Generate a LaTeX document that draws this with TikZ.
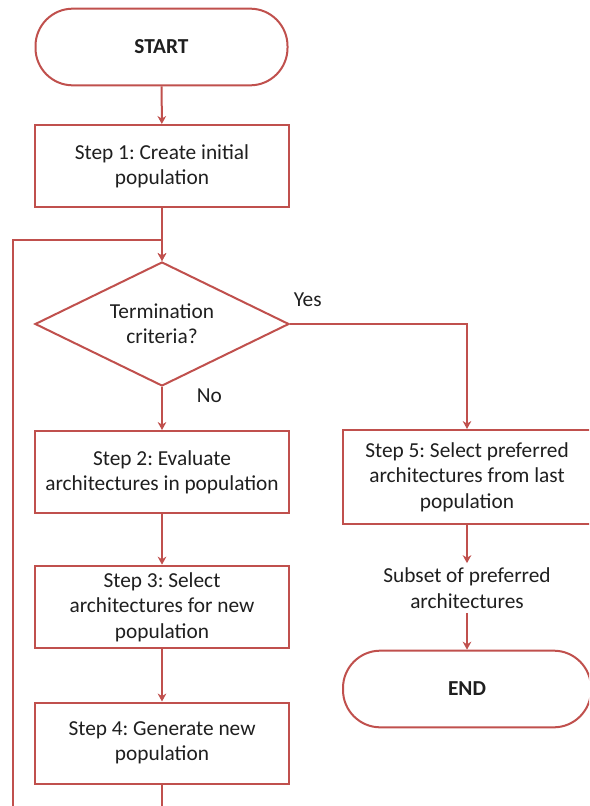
\documentclass[tikz,border=0pt]{standalone}
\usepackage{fontspec}
\setmainfont{Carlito}
\usepackage{tikz}
\usetikzlibrary{positioning}
\usetikzlibrary{shapes.geometric}
\usetikzlibrary{arrows.meta}
\definecolor{flowred}{HTML}{C0504D}
\definecolor{flowtext}{HTML}{1F1F1F}
\frenchspacing
\tikzset{base/.style={draw=flowred,line width=1.5pt,fill=white,text=flowtext,align=center,inner sep=2pt,font=\fontsize{16}{19}\selectfont}}
\tikzset{term/.style={base,rectangle,rounded corners=28pt,minimum width=189pt,minimum height=57.5pt,font=\fontsize{16}{19}\selectfont\bfseries}}
\tikzset{stepbox/.style={base,rectangle,minimum width=190.5pt,minimum height=61.5pt}}
\tikzset{decide/.style={base,diamond,aspect=2.05,inner sep=0pt,minimum width=190.5pt,minimum height=93pt}}
\tikzset{flow/.style={draw=flowred,line width=1.5pt,-{Stealth[length=6pt,width=6.5pt]}}}
\tikzset{lbl/.style={text=flowtext,font=\fontsize{16}{19}\selectfont}}

\begin{document}
\begin{tikzpicture}[x=0.75pt,y=-0.75pt]
\useasboundingbox (0,0) rectangle (589,806);
\clip (0,0) rectangle (589,806);
\node[term] (start) at (161.5,47) {START};
\node[stepbox] (step1) at (162,166) {Step 1: Create initial\\population};
\node[decide] (crit) at (162,324) {Termination\\criteria?};
\node[stepbox] (step2) at (162,472) {Step 2: Evaluate\\architectures in population};
\node[stepbox,minimum height=62pt] (step3) at (162,607) {Step 3: Select\\architectures for new\\population};
\node[stepbox,minimum height=60.75pt] (step4) at (162,743) {Step 4: Generate new\\population};
\node[stepbox,minimum width=186pt,minimum height=70.5pt] (step5) at (467,477) {Step 5: Select preferred\\architectures from last\\population};
\node[lbl,align=center] (subset) at (467,588) {Subset of preferred\\architectures};
\node[term,minimum width=186pt] (end) at (467,689) {END};
%\node[lbl] at (13,240) {};
\coordinate (loopjoin) at (162,240);
\coordinate (loopbot) at (162,840);
\coordinate (loopleft) at (13,840);
\draw[flow] (start) -- (step1);
\draw[flow] (step1) -- (crit);
\draw[flow] (step4.south) -- (loopbot) -- (loopleft) |- (loopjoin) -- (crit.north);
\draw[flow] (crit) -- node[lbl,pos=0.2,right=22pt] {No} (step2);
\draw[flow] (crit.east) -| (step5.north) node[lbl,pos=0.05,above=9pt] {Yes};
\draw[flow] (step2) -- (step3);
\draw[flow] (step3) -- (step4);
\draw[flow] (step5) -- (subset);
\draw[flow] (subset) -- (end);
\end{tikzpicture}
\end{document}
